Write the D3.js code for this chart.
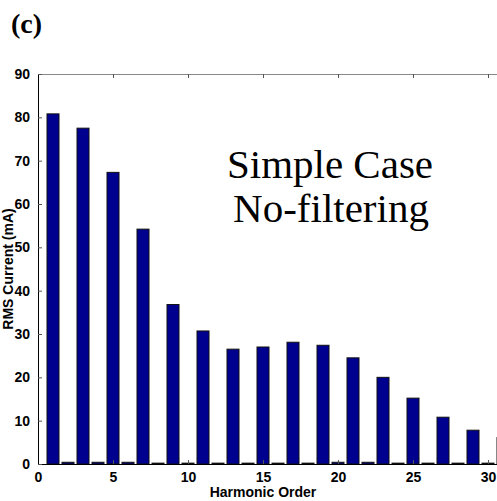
<!DOCTYPE html>
<html>
<head>
<meta charset="utf-8">
<script src="https://cdn.jsdelivr.net/npm/d3@7"></script>
<style>
  html, body { margin: 0; padding: 0; background: #fff; }
  svg { display: block; }
</style>
</head>
<body>
<svg id="chart" width="497" height="501"></svg>
<script>
// Harmonic spectrum of the RMS current (mA), orders 1..31
const harmonicOrders = [1, 2, 3, 4, 5, 6, 7, 8, 9, 10, 11, 12, 13, 14, 15, 16,
                        17, 18, 19, 20, 21, 22, 23, 24, 25, 26, 27, 28, 29, 30, 31];
const rmsCurrent = [80.8, 0.4, 77.5, 0.4, 67.3, 0.4, 54.2, 0.2, 36.8, 0.2, 30.7, 0.2,
                    26.5, 0.2, 27.0, 0.2, 28.1, 0.2, 27.4, 0.4, 24.5, 0.4, 20.0, 0.2,
                    15.2, 0.2, 10.8, 0.2, 7.8, 0.2, 6.1];
const xTicks = [0, 5, 10, 15, 20, 25, 30];
const yTicks = [0, 10, 20, 30, 40, 50, 60, 70, 80, 90];

const svg = d3.select("#chart");
const plotLeft = 38, plotTop = 74, plotBottom = 464, unit = 15;

const x = d3.scaleLinear().domain([0, 35]).range([plotLeft, plotLeft + 35 * unit]);
const y = d3.scaleLinear().domain([0, 90]).range([plotBottom, plotTop]);

const barW = 0.8;

// bars
svg.append("g").selectAll("rect")
  .data(harmonicOrders.map((h, i) => ({h, v: rmsCurrent[i]})))
  .join("rect")
  .attr("x", d => x(d.h - barW / 2))
  .attr("width", d => x(barW) - x(0))
  .attr("y", d => y(d.v))
  .attr("height", d => y(0) - y(d.v))
  .attr("fill", "#00008f")
  .attr("stroke", "#111")
  .attr("stroke-width", 1);

// axes
const tickLen = 4;
const xAxisB = d3.axisBottom(x).tickValues(xTicks).tickSizeInner(-tickLen).tickSizeOuter(0).tickPadding(8);
const xAxisT = d3.axisTop(x).tickValues(xTicks).tickSizeInner(-tickLen).tickSizeOuter(0).tickFormat("");
const yAxisL = d3.axisLeft(y).tickValues(yTicks).tickSizeInner(-tickLen).tickSizeOuter(0).tickPadding(8);

const gB = svg.append("g").attr("transform", `translate(0,${plotBottom})`).call(xAxisB);
const gT = svg.append("g").attr("transform", `translate(0,${plotTop})`).call(xAxisT);
const gL = svg.append("g").attr("transform", `translate(${plotLeft},0)`).call(yAxisL);

[gB, gT, gL].forEach(g => {
  g.selectAll("text")
    .attr("font-family", "Arial, 'Liberation Sans', sans-serif")
    .attr("font-weight", "bold")
    .attr("font-size", 14)
    .attr("fill", "#000");
  g.selectAll(".tick line").attr("stroke", "#555");
});
gB.select(".domain").attr("stroke", "#000");
gL.select(".domain").attr("stroke", "#000");
gT.select(".domain").attr("stroke", "#888");
gB.selectAll("text").attr("dy", "0.71em");

// axis titles
svg.append("text")
  .attr("x", x(15)).attr("y", 497)
  .attr("text-anchor", "middle")
  .attr("font-family", "Arial, 'Liberation Sans', sans-serif")
  .attr("font-weight", "bold").attr("font-size", 14)
  .text("Harmonic Order");

svg.append("text")
  .attr("transform", `translate(13,${(plotTop + plotBottom) / 2}) rotate(-90)`)
  .attr("text-anchor", "middle")
  .attr("font-family", "Arial, 'Liberation Sans', sans-serif")
  .attr("font-weight", "bold").attr("font-size", 14)
  .text("RMS Current (mA)");

// panel label
svg.append("text")
  .attr("x", 11).attr("y", 33)
  .attr("font-family", "'Times New Roman', 'Liberation Serif', serif")
  .attr("font-weight", "bold").attr("font-size", 28)
  .text("(c)");

// annotation
const note = svg.append("text")
  .attr("text-anchor", "middle")
  .attr("font-family", "'Times New Roman', 'Liberation Serif', serif")
  .attr("font-size", 41);
note.append("tspan").attr("x", 330).attr("y", 178).text("Simple Case");
note.append("tspan").attr("x", 331).attr("y", 222).text("No-filtering");
</script>
</body>
</html>
